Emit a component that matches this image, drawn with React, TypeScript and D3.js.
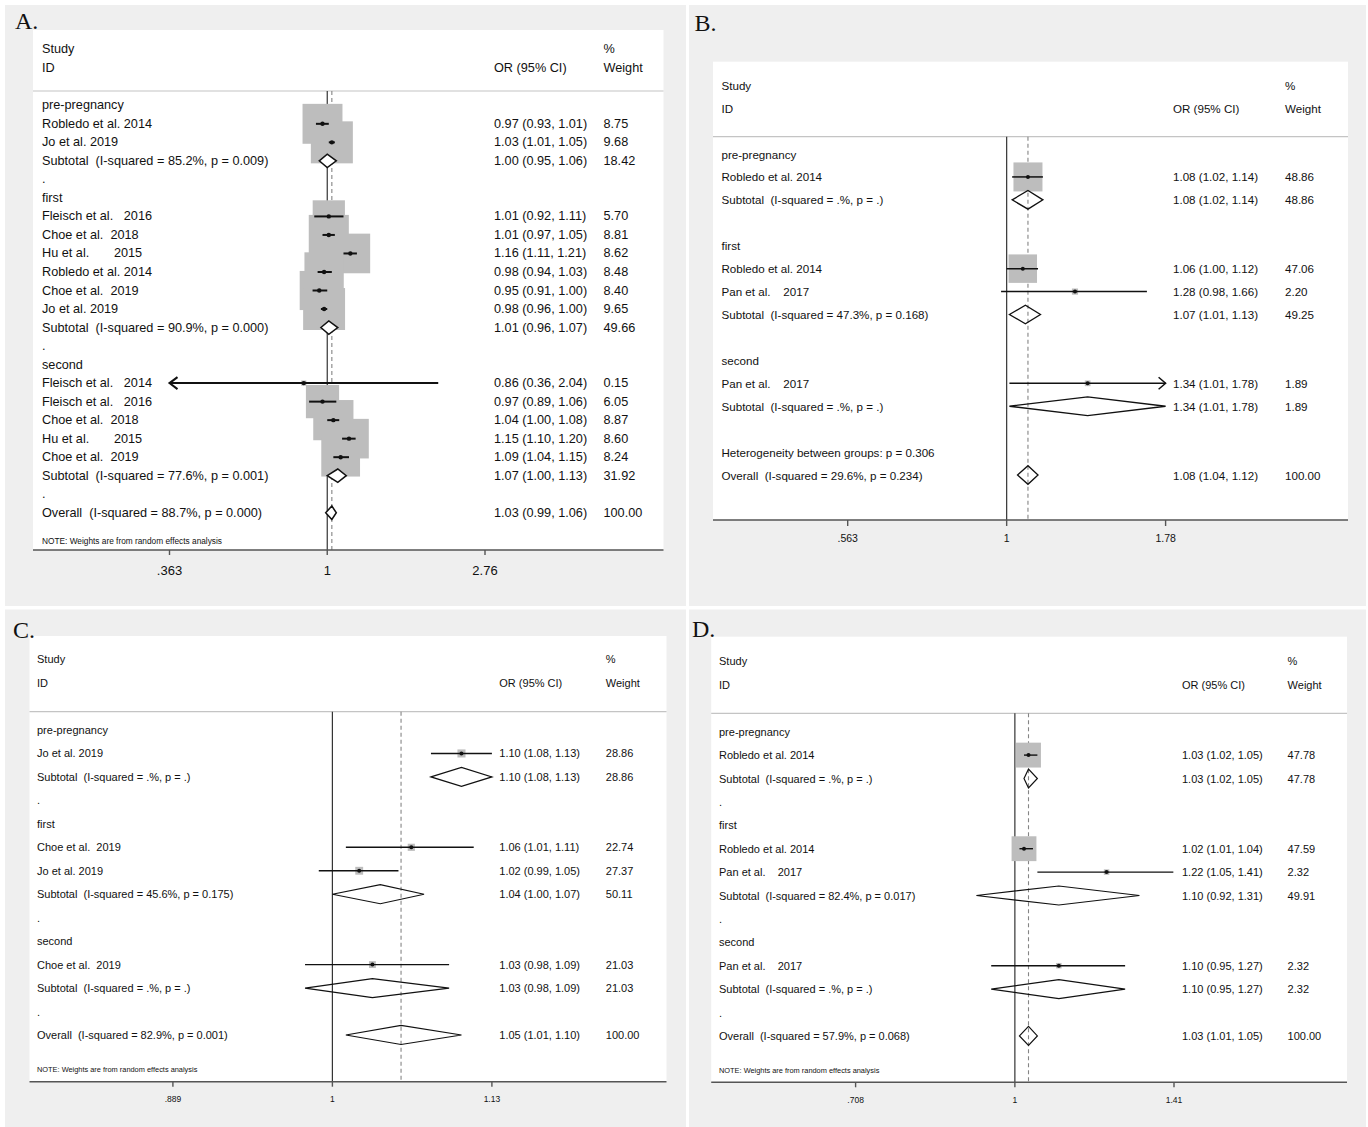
import React from 'react';
import * as d3 from 'd3';

type RowType = 'group' | 'study' | 'sub' | 'dot' | 'blank' | 'het' | 'overall';
interface Row {
  type: RowType;
  label?: string;
  es?: number;
  lo?: number;
  hi?: number;
  w?: number;
  clip?: 'lo' | 'hi';
}

// ---------------- DATA ----------------
const rowsA: Row[] = [
  { type: 'group', label: 'pre-pregnancy' },
  { type: 'study', label: 'Robledo et al. 2014', es: 0.97, lo: 0.93, hi: 1.01, w: 8.75 },
  { type: 'study', label: 'Jo et al. 2019', es: 1.03, lo: 1.01, hi: 1.05, w: 9.68 },
  { type: 'sub', label: 'Subtotal  (I-squared = 85.2%, p = 0.009)', es: 1.0, lo: 0.95, hi: 1.06, w: 18.42 },
  { type: 'dot' },
  { type: 'group', label: 'first' },
  { type: 'study', label: 'Fleisch et al.   2016', es: 1.01, lo: 0.92, hi: 1.11, w: 5.7 },
  { type: 'study', label: 'Choe et al.  2018', es: 1.01, lo: 0.97, hi: 1.05, w: 8.81 },
  { type: 'study', label: 'Hu et al.       2015', es: 1.16, lo: 1.11, hi: 1.21, w: 8.62 },
  { type: 'study', label: 'Robledo et al. 2014', es: 0.98, lo: 0.94, hi: 1.03, w: 8.48 },
  { type: 'study', label: 'Choe et al.  2019', es: 0.95, lo: 0.91, hi: 1.0, w: 8.4 },
  { type: 'study', label: 'Jo et al. 2019', es: 0.98, lo: 0.96, hi: 1.0, w: 9.65 },
  { type: 'sub', label: 'Subtotal  (I-squared = 90.9%, p = 0.000)', es: 1.01, lo: 0.96, hi: 1.07, w: 49.66 },
  { type: 'dot' },
  { type: 'group', label: 'second' },
  { type: 'study', label: 'Fleisch et al.   2014', es: 0.86, lo: 0.36, hi: 2.04, w: 0.15, clip: 'lo' },
  { type: 'study', label: 'Fleisch et al.   2016', es: 0.97, lo: 0.89, hi: 1.06, w: 6.05 },
  { type: 'study', label: 'Choe et al.  2018', es: 1.04, lo: 1.0, hi: 1.08, w: 8.87 },
  { type: 'study', label: 'Hu et al.       2015', es: 1.15, lo: 1.1, hi: 1.2, w: 8.6 },
  { type: 'study', label: 'Choe et al.  2019', es: 1.09, lo: 1.04, hi: 1.15, w: 8.24 },
  { type: 'sub', label: 'Subtotal  (I-squared = 77.6%, p = 0.001)', es: 1.07, lo: 1.0, hi: 1.13, w: 31.92 },
  { type: 'dot' },
  { type: 'overall', label: 'Overall  (I-squared = 88.7%, p = 0.000)', es: 1.03, lo: 0.99, hi: 1.06, w: 100 },
];

const rowsB: Row[] = [
  { type: 'group', label: 'pre-pregnancy' },
  { type: 'study', label: 'Robledo et al. 2014', es: 1.08, lo: 1.02, hi: 1.14, w: 48.86 },
  { type: 'sub', label: 'Subtotal  (I-squared = .%, p = .)', es: 1.08, lo: 1.02, hi: 1.14, w: 48.86 },
  { type: 'blank' },
  { type: 'group', label: 'first' },
  { type: 'study', label: 'Robledo et al. 2014', es: 1.06, lo: 1.0, hi: 1.12, w: 47.06 },
  { type: 'study', label: 'Pan et al.    2017', es: 1.28, lo: 0.98, hi: 1.66, w: 2.2 },
  { type: 'sub', label: 'Subtotal  (I-squared = 47.3%, p = 0.168)', es: 1.07, lo: 1.01, hi: 1.13, w: 49.25 },
  { type: 'blank' },
  { type: 'group', label: 'second' },
  { type: 'study', label: 'Pan et al.    2017', es: 1.34, lo: 1.01, hi: 1.78, w: 1.89, clip: 'hi' },
  { type: 'sub', label: 'Subtotal  (I-squared = .%, p = .)', es: 1.34, lo: 1.01, hi: 1.78, w: 1.89 },
  { type: 'blank' },
  { type: 'het', label: 'Heterogeneity between groups: p = 0.306' },
  { type: 'overall', label: 'Overall  (I-squared = 29.6%, p = 0.234)', es: 1.08, lo: 1.04, hi: 1.12, w: 100 },
];

const rowsC: Row[] = [
  { type: 'group', label: 'pre-pregnancy' },
  { type: 'study', label: 'Jo et al. 2019', es: 1.1, lo: 1.0755, hi: 1.13, w: 28.86 },
  { type: 'sub', label: 'Subtotal  (I-squared = .%, p = .)', es: 1.1, lo: 1.0755, hi: 1.13, w: 28.86 },
  { type: 'dot' },
  { type: 'group', label: 'first' },
  { type: 'study', label: 'Choe et al.  2019', es: 1.06, lo: 1.01, hi: 1.11, w: 22.74 },
  { type: 'study', label: 'Jo et al. 2019', es: 1.02, lo: 0.99, hi: 1.05, w: 27.37 },
  { type: 'sub', label: 'Subtotal  (I-squared = 45.6%, p = 0.175)', es: 1.036, lo: 1.0, hi: 1.07, w: 50.11 },
  { type: 'dot' },
  { type: 'group', label: 'second' },
  { type: 'study', label: 'Choe et al.  2019', es: 1.03, lo: 0.98, hi: 1.09, w: 21.03 },
  { type: 'sub', label: 'Subtotal  (I-squared = .%, p = .)', es: 1.03, lo: 0.98, hi: 1.09, w: 21.03 },
  { type: 'dot' },
  { type: 'overall', label: 'Overall  (I-squared = 82.9%, p = 0.001)', es: 1.052, lo: 1.01, hi: 1.1, w: 100 },
];

const rowsD: Row[] = [
  { type: 'group', label: 'pre-pregnancy' },
  { type: 'study', label: 'Robledo et al. 2014', es: 1.03, lo: 1.02, hi: 1.05, w: 47.78 },
  { type: 'sub', label: 'Subtotal  (I-squared = .%, p = .)', es: 1.03, lo: 1.02, hi: 1.05, w: 47.78 },
  { type: 'dot' },
  { type: 'group', label: 'first' },
  { type: 'study', label: 'Robledo et al. 2014', es: 1.02, lo: 1.01, hi: 1.04, w: 47.59 },
  { type: 'study', label: 'Pan et al.    2017', es: 1.22, lo: 1.05, hi: 1.41, w: 2.32 },
  { type: 'sub', label: 'Subtotal  (I-squared = 82.4%, p = 0.017)', es: 1.1, lo: 0.92, hi: 1.31, w: 49.91 },
  { type: 'dot' },
  { type: 'group', label: 'second' },
  { type: 'study', label: 'Pan et al.    2017', es: 1.1, lo: 0.95, hi: 1.27, w: 2.32 },
  { type: 'sub', label: 'Subtotal  (I-squared = .%, p = .)', es: 1.1, lo: 0.95, hi: 1.27, w: 2.32 },
  { type: 'dot' },
  { type: 'overall', label: 'Overall  (I-squared = 57.9%, p = 0.068)', es: 1.03, lo: 1.01, hi: 1.05, w: 100 },
];

const ticksA = [0.363, 1, 2.755];
const tickLabelsA = ['.363', '1', '2.76'];
const ticksB = [0.563, 1, 1.776];
const tickLabelsB = ['.563', '1', '1.78'];
const ticksC = [0.8889, 1, 1.125];
const tickLabelsC = ['.889', '1', '1.13'];
const ticksD = [0.708, 1, 1.412];
const tickLabelsD = ['.708', '1', '1.41'];

const noteText = 'NOTE: Weights are from random effects analysis';

// ---------------- LAYOUT ----------------
interface Layout {
  letter: string;
  gray: [number, number, number, number];
  letterX: number;
  letterY: number;
  white: [number, number, number, number];
  studyY: number;
  idY: number;
  sepY: number;
  textX: number;
  orX: number;
  wX: number;
  row0: number;
  rowStep: number;
  noteY: number | null;
  axisY: number;
  tickLen: number;
  tickLabelY: number;
  x0: number;
  x1: number;
  font: number;
  tickFont: number;
  noteFont: number;
  boxK: number;
  diamondH: number;
  ciW: number;
  dotR: number;
  diamondFill: string;
  diamondW: number;
  arrowL: number;
  arrowH: number;
}

const layoutA: Layout = {
  letter: 'A.', gray: [5, 5, 686, 606], letterX: 15, letterY: 29,
  white: [33, 30, 663.5, 550], studyY: 49.3, idY: 67.7, sepY: 91,
  textX: 42, orX: 494, wX: 603.5, row0: 105.3, rowStep: 18.52,
  noteY: 540.7, axisY: 550, tickLen: 5, tickLabelY: 570.5, x0: 169.5, x1: 485,
  font: 12.7, tickFont: 13, noteFont: 8.3, boxK: 13.5, diamondH: 6.7,
  ciW: 2, dotR: 2.2, diamondFill: '#ffffff', diamondW: 1.5, arrowL: 8, arrowH: 6,
};

const layoutB: Layout = {
  letter: 'B.', gray: [689, 5, 1366, 606], letterX: 694.5, letterY: 31,
  white: [713, 61.7, 1348, 520], studyY: 85, idY: 108.3, sepY: 136.7,
  textX: 721.5, orX: 1173, wX: 1285, row0: 154, rowStep: 22.93,
  noteY: null, axisY: 520, tickLen: 6, tickLabelY: 538.3, x0: 847.7, x1: 1165.6,
  font: 11.6, tickFont: 10.5, noteFont: 7.5, boxK: 4.15, diamondH: 9.3,
  ciW: 1.5, dotR: 2, diamondFill: 'none', diamondW: 1.3, arrowL: 7, arrowH: 6,
};

const layoutC: Layout = {
  letter: 'C.', gray: [5, 609.5, 686, 1127], letterX: 13, letterY: 638,
  white: [29.5, 636, 666.5, 1081.7], studyY: 659.3, idY: 682.7, sepY: 711.7,
  textX: 37, orX: 499.3, wX: 605.8, row0: 730, rowStep: 23.46,
  noteY: 1069.3, axisY: 1081.7, tickLen: 5, tickLabelY: 1099, x0: 172.9, x1: 491.9,
  font: 11, tickFont: 8.5, noteFont: 7.4, boxK: 1.5, diamondH: 9.5,
  ciW: 1.4, dotR: 2, diamondFill: 'none', diamondW: 1.2, arrowL: 7, arrowH: 6,
};

const layoutD: Layout = {
  letter: 'D.', gray: [689, 609.5, 1366, 1127], letterX: 692, letterY: 636.7,
  white: [711.2, 636.7, 1347, 1082.3], studyY: 661, idY: 684.7, sepY: 713.3,
  textX: 719, orX: 1182, wX: 1287.6, row0: 731.7, rowStep: 23.4,
  noteY: 1070.3, axisY: 1082.3, tickLen: 5, tickLabelY: 1099.7, x0: 855.6, x1: 1174,
  font: 11, tickFont: 8.5, noteFont: 7.4, boxK: 3.6, diamondH: 9.5,
  ciW: 1.4, dotR: 2, diamondFill: 'none', diamondW: 1.2, arrowL: 7, arrowH: 6,
};

const SANS = '"Liberation Sans", Arial, Helvetica, sans-serif';
const SERIF = '"Liberation Serif", "Times New Roman", serif';
const TEXT = '#111111';
const f2 = d3.format('.2f');

function ForestPanel({ L, rows, ticks, tickLabels }: { L: Layout; rows: Row[]; ticks: number[]; tickLabels: string[] }) {
  const x = d3.scaleLog().domain([ticks[0], ticks[ticks.length - 1]]).range([L.x0, L.x1]);
  const [dmin, dmax] = x.domain();
  const cl = (v: number) => Math.min(dmax, Math.max(dmin, v));
  const yOf = (i: number) => L.row0 + i * L.rowStep;
  const overall = rows.find((r) => r.type === 'overall')!;
  const [wx0, wy0, wx1, wy1] = L.white;
  const [gx0, gy0, gx1, gy1] = L.gray;

  const textProps = {
    fontFamily: SANS,
    fontSize: L.font,
    fill: TEXT,
    dominantBaseline: 'central' as const,
    style: { whiteSpace: 'pre' as const },
  };

  const diamondPath = (r: Row, y: number) =>
    `M${x(cl(r.lo!))},${y} L${x(r.es!)},${y - L.diamondH} L${x(cl(r.hi!))},${y} L${x(r.es!)},${y + L.diamondH} Z`;

  return (
    <g>
      <rect x={gx0} y={gy0} width={gx1 - gx0} height={gy1 - gy0} fill="#efefef" />
      <rect x={wx0} y={wy0} width={wx1 - wx0} height={wy1 - wy0} fill="#ffffff" />
      <text x={L.letterX} y={L.letterY} fontFamily={SERIF} fontSize={24} fill={TEXT}>
        {L.letter}
      </text>

      {/* header */}
      <text x={L.textX} y={L.studyY} {...textProps}>Study</text>
      <text x={L.textX} y={L.idY} {...textProps}>ID</text>
      <text x={L.orX} y={L.idY} {...textProps}>OR (95% CI)</text>
      <text x={L.wX} y={L.studyY} {...textProps}>%</text>
      <text x={L.wX} y={L.idY} {...textProps}>Weight</text>
      <line x1={wx0} x2={wx1} y1={L.sepY} y2={L.sepY} stroke="#c4c4c4" strokeWidth={1.2} />

      {/* reference lines */}
      <line x1={x(1)} x2={x(1)} y1={L.sepY} y2={L.axisY} stroke="#333333" strokeWidth={1.2} />
      <line
        x1={x(overall.es!)}
        x2={x(overall.es!)}
        y1={L.sepY}
        y2={L.axisY}
        stroke="#858585"
        strokeWidth={1.1}
        strokeDasharray="4,3"
      />

      {/* boxes */}
      {rows.map((r, i) => {
        if (r.type !== 'study') return null;
        const s = L.boxK * Math.sqrt(r.w!);
        return <rect key={'b' + i} x={x(r.es!) - s / 2} y={yOf(i) - s / 2} width={s} height={s} fill="#bdbdbd" />;
      })}

      {/* CI lines, arrows, points */}
      {rows.map((r, i) => {
        if (r.type !== 'study') return null;
        const y = yOf(i);
        const xl = x(cl(r.lo!));
        const xh = x(cl(r.hi!));
        return (
          <g key={'c' + i}>
            <line x1={xl} x2={xh} y1={y} y2={y} stroke="#111" strokeWidth={L.ciW} />
            {r.clip === 'lo' && (
              <path
                d={`M${xl + L.arrowL},${y - L.arrowH} L${xl},${y} L${xl + L.arrowL},${y + L.arrowH}`}
                fill="none"
                stroke="#111"
                strokeWidth={L.ciW}
              />
            )}
            {r.clip === 'hi' && (
              <path
                d={`M${xh - L.arrowL},${y - L.arrowH} L${xh},${y} L${xh - L.arrowL},${y + L.arrowH}`}
                fill="none"
                stroke="#111"
                strokeWidth={L.ciW}
              />
            )}
            <circle cx={x(r.es!)} cy={y} r={L.dotR} fill="#111" />
          </g>
        );
      })}

      {/* diamonds */}
      {rows.map((r, i) => {
        if (r.type !== 'sub' && r.type !== 'overall') return null;
        return (
          <path
            key={'d' + i}
            d={diamondPath(r, yOf(i))}
            fill={L.diamondFill}
            stroke="#111"
            strokeWidth={L.diamondW}
            strokeLinejoin="miter"
          />
        );
      })}

      {/* axis */}
      <line x1={wx0} x2={wx1} y1={L.axisY} y2={L.axisY} stroke="#555555" strokeWidth={1.6} />
      {ticks.map((t, i) => (
        <g key={'t' + i}>
          <line x1={x(t)} x2={x(t)} y1={L.axisY} y2={L.axisY + L.tickLen} stroke="#555555" strokeWidth={1.4} />
          <text
            x={x(t)}
            y={L.tickLabelY}
            fontFamily={SANS}
            fontSize={L.tickFont}
            fill={TEXT}
            textAnchor="middle"
            dominantBaseline="central"
          >
            {tickLabels[i]}
          </text>
        </g>
      ))}

      {/* row texts */}
      {rows.map((r, i) => {
        const y = yOf(i);
        if (r.type === 'blank') return null;
        if (r.type === 'dot')
          return (
            <text key={'l' + i} x={L.textX} y={y} {...textProps}>
              .
            </text>
          );
        if (r.type === 'group' || r.type === 'het')
          return (
            <text key={'l' + i} x={L.textX} y={y} {...textProps}>
              {r.label}
            </text>
          );
        return (
          <g key={'l' + i}>
            <text x={L.textX} y={y} {...textProps}>
              {r.label}
            </text>
            <text x={L.orX} y={y} {...textProps}>
              {`${f2(r.es!)} (${f2(r.lo!)}, ${f2(r.hi!)})`}
            </text>
            <text x={L.wX} y={y} {...textProps}>
              {f2(r.w!)}
            </text>
          </g>
        );
      })}

      {L.noteY !== null && (
        <text x={L.textX} y={L.noteY} fontFamily={SANS} fontSize={L.noteFont} fill={TEXT} dominantBaseline="central">
          {noteText}
        </text>
      )}
    </g>
  );
}

export default function App() {
  return (
    <svg
      width={1368}
      height={1127}
      viewBox="0 0 1368 1127"
      style={{ position: 'absolute', left: 0, top: 0, background: '#ffffff' }}
    >
      <rect x={0} y={0} width={1368} height={1127} fill="#ffffff" />
      <ForestPanel L={layoutA} rows={rowsA} ticks={ticksA} tickLabels={tickLabelsA} />
      <ForestPanel L={layoutB} rows={rowsB} ticks={ticksB} tickLabels={tickLabelsB} />
      <ForestPanel L={layoutC} rows={rowsC} ticks={ticksC} tickLabels={tickLabelsC} />
      <ForestPanel L={layoutD} rows={rowsD} ticks={ticksD} tickLabels={tickLabelsD} />
    </svg>
  );
}
